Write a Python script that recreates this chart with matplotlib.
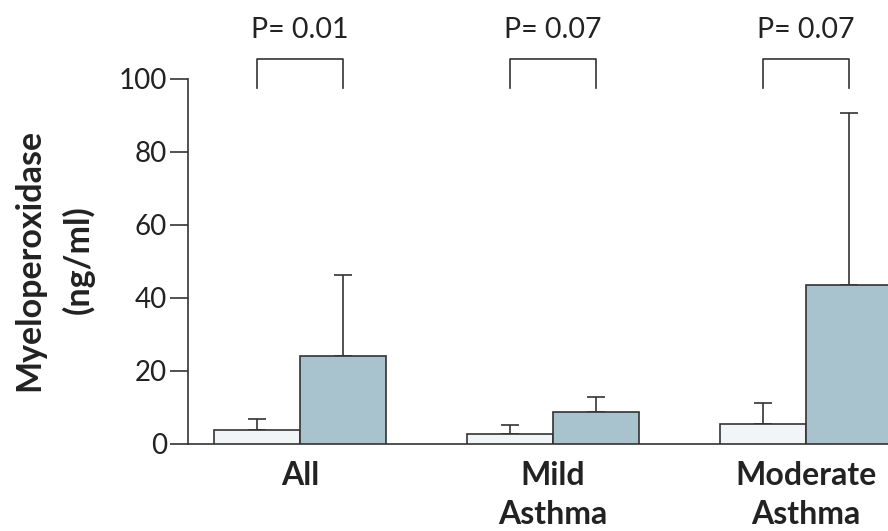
import numpy as np
import matplotlib
matplotlib.use("Agg")
import matplotlib.pyplot as plt

plt.rcParams['font.family'] = ['Lato', 'DejaVu Sans']

groups = ["All", "Mild\nAsthma", "Moderate\nAsthma"]
control_mean = [3.8, 2.7, 5.5]
control_err = [3.0, 2.5, 5.7]
asthma_mean = [24.1, 8.8, 43.6]
asthma_err = [22.2, 4.1, 47.1]
p_values = ["P= 0.01", "P= 0.07", "P= 0.07"]

edge = "#333333"
light = "#f1f5f7"
blue = "#a8c2ce"

fig = plt.figure(figsize=(8.88, 5.31), dpi=100)
ax = fig.add_axes([188 / 888, 87 / 531, 700 / 888, 444 / 531])

x = np.arange(len(groups))
w = 0.34
ax.bar(x - w / 2, control_mean, w, color=light, edgecolor=edge, linewidth=1.2, zorder=3)
ax.bar(x + w / 2, asthma_mean, w, color=blue, edgecolor=edge, linewidth=1.2, zorder=3)
ax.errorbar(x - w / 2, control_mean, yerr=[np.zeros(3), control_err], fmt='none',
            ecolor=edge, elinewidth=1.2, capsize=6.5, capthick=1.2, zorder=2)
ax.errorbar(x + w / 2, asthma_mean, yerr=[np.zeros(3), asthma_err], fmt='none',
            ecolor=edge, elinewidth=1.2, capsize=6.5, capthick=1.2, zorder=2)

# significance brackets
for i, p in enumerate(p_values):
    x0, x1 = i - w / 2, i + w / 2
    ax.plot([x0, x0, x1, x1], [97.5, 105.5, 105.5, 97.5], color=edge, lw=1.2, clip_on=False)
    ax.text(i, 113.3, p, ha='center', va='center', fontsize=20.5, color="#222222", clip_on=False)

ax.set_xlim(-0.443, 2.324)
ax.set_ylim(0, 121.6)
ax.spines['top'].set_visible(False)
ax.spines['right'].set_visible(False)
ax.spines['left'].set_bounds(0, 100)
for s in ['left', 'bottom']:
    ax.spines[s].set_linewidth(1.2)
    ax.spines[s].set_color(edge)

ax.set_yticks([0, 20, 40, 60, 80, 100])
ax.tick_params(axis='y', length=13, width=1.2, color=edge, labelsize=20, pad=2, labelcolor="#222222")
ax.set_xticks(x)
ax.set_xticklabels(groups, fontsize=23, fontweight='bold', linespacing=1.42)
ax.tick_params(axis='x', length=0, pad=12, labelcolor="#222222")

fig.text(54 / 888, 1 - 260 / 531, "Myeloperoxidase\n(ng/ml)", rotation=90, ha='center', va='center',
         fontsize=24.5, fontweight='bold', color="#222222", linespacing=1.6)

fig.savefig("out.png", dpi=100)
